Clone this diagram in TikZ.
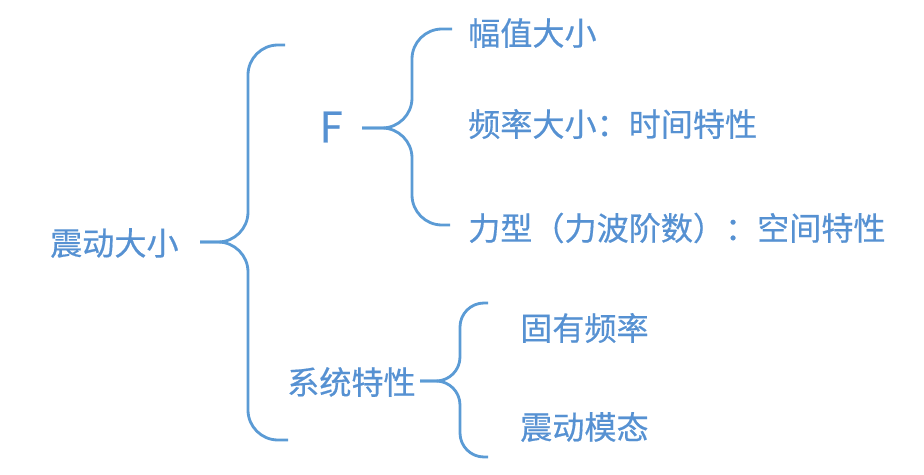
\documentclass[tikz,border=0pt]{standalone}
\usepackage{fontspec}
\newfontfamily\cjkfont[FakeBold=0.5]{Noto Sans CJK SC}
\usepackage{tikz}
\usetikzlibrary{positioning}
\definecolor{braceblue}{RGB}{91,155,213}
\definecolor{wordblue}{RGB}{86,145,210}

\begin{document}
\begin{tikzpicture}[x=0.03cm, y=-0.03cm,
		word/.style={font=\cjkfont\fontsize{27.4}{32}\selectfont, text=wordblue, inner sep=0pt, anchor=west},
		brace/.style={draw=braceblue, line width=2.4pt, rounded corners=#1}]
			\useasboundingbox (0,0) rectangle (924,474);

			\node[word] (root) at (50,243) {震动大小};
			\node[word, anchor=center, font=\cjkfont\fontsize{36}{40}\selectfont] (force) at (331,127) {F};
			\node[word] (amp) at (468,33) {幅值大小};
			\node[word] (freq) at (468,124) {频率大小：时间特性};
			\node[word] (shape) at (468,228) {力型（力波阶数）：空间特性};
			\node[word] (sys) at (287,382) {系统特性};
			\node[word] (natfreq) at (520,328) {固有频率};
			\node[word] (mode) at (520,427) {震动模态};

			\coordinate (rootTip) at (200,242);
			\coordinate (rootMid) at (248,242);
			\coordinate (rootTop) at (285,45);
			\coordinate (rootBot) at (288,440);
			\draw[brace=0.9cm] (rootTop) -| (rootMid) -- (rootTip);
			\draw[brace=0.9cm] (rootBot) -| (rootMid) -- (rootTip);

			\coordinate (forceTip) at (362,128);
			\coordinate (forceMid) at (412,128);
			\coordinate (forceTop) at (452,29);
			\coordinate (forceBot) at (450,225);
			\draw[brace=0.9cm] (forceTop) -| (forceMid) -- (forceTip);
			\draw[brace=0.9cm] (forceBot) -| (forceMid) -- (forceTip);

			\coordinate (sysTip) at (420,381);
			\coordinate (sysMid) at (460,381);
			\coordinate (sysTop) at (488,303);
			\coordinate (sysBot) at (488,457);
			\draw[brace=0.72cm] (sysTop) -| (sysMid) -- (sysTip);
			\draw[brace=0.72cm] (sysBot) -| (sysMid) -- (sysTip);
		\end{tikzpicture}
\end{document}
